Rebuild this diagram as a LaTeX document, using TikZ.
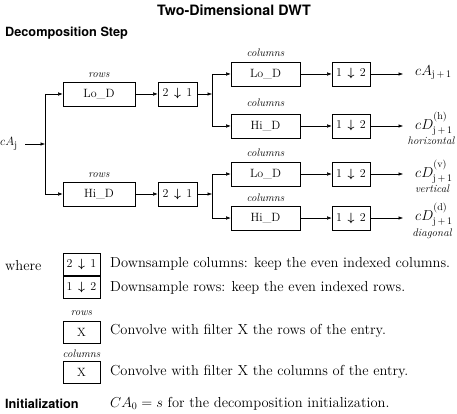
\documentclass[tikz,border=0pt]{standalone}
\usepackage{amsmath}
\usepackage{fontspec}
\newfontfamily\hv{TeX Gyre Heros}
\usetikzlibrary{arrows.meta}
\newcommand{\dsa}[2]{#1\hspace{5.5pt}$\boldsymbol{\downarrow}$\hspace{5.5pt}#2}
\newcommand{\subtx}[1]{\mbox{\fontsize{10}{12}\selectfont #1}}
\newcommand{\suptx}[1]{\raisebox{5pt}{\fontsize{10}{12}\selectfont #1}}
\begin{document}
\begin{tikzpicture}[x=1pt,y=-1pt,
  box/.style={draw, line width=0.6pt, minimum width=72pt, minimum height=24pt, inner sep=0pt, font=\fontsize{12}{14}\selectfont},
  dbox/.style={box, minimum width=39pt},
  cbox/.style={box, minimum width=69pt},
  wbox/.style={box, minimum width=37pt, minimum height=22pt},
  lab/.style={font=\itshape\fontsize{11}{13}\selectfont, inner sep=0pt},
  arr/.style={-{Latex[length=4.5pt,width=3.5pt]}, line width=0.5pt},
  ln/.style={line width=0.5pt},
  outl/.style={anchor=west, inner sep=0pt, font=\fontsize{13.5}{15}\selectfont},
  sub/.style={font=\itshape\fontsize{11}{13}\selectfont, inner sep=0pt},
  txt/.style={anchor=west, inner sep=0pt, font=\fontsize{14.5}{16}\selectfont},
  head/.style={anchor=west, inner sep=0pt, font=\hv\bfseries\fontsize{12.7}{15}\selectfont}
]
\useasboundingbox (0,0) rectangle (457,414);
\node[inner sep=0pt, font=\hv\bfseries\fontsize{14.3}{16}\selectfont] (title) at (234,10) {Two-Dimensional DWT};
\node[head] (dec) at (5,33) {Decomposition Step};

% input
\node[anchor=west, inner sep=0pt, font=\fontsize{13}{15}\selectfont] (cAj) at (0,144) {$cA_{\subtx{j}}$};
\coordinate (v0) at (45,144);
\coordinate (vt) at (45,94);
\coordinate (vb) at (45,194);
\coordinate (cAs) at (25,144);
\draw[arr] (cAs) -- (v0);
\draw[ln] (vt) -- (vb);

% rows stage
\node[box] (lr) at (99,94) {Lo\_D};
\node[lab] (lrl) at (99,75) {rows};
\node[box] (hr) at (99,194) {Hi\_D};
\node[lab] (hrl) at (99,175) {rows};
\draw[arr] (vt) -- (lr);
\draw[arr] (vb) -- (hr);
\node[dbox] (d1) at (177.5,94) {\dsa{2}{1}};
\node[dbox] (d2) at (177.5,194) {\dsa{2}{1}};
\draw[arr] (lr) -- (d1);
\draw[arr] (hr) -- (d2);

% splits
\coordinate (s1) at (212,94);
\coordinate (s1t) at (212,74);
\coordinate (s1b) at (212,126);
\draw[arr] (d1) -- (s1);
\draw[ln] (s1t) -- (s1b);
\coordinate (s2) at (212,194);
\coordinate (s2t) at (212,174);
\coordinate (s2b) at (212,218);
\draw[arr] (d2) -- (s2);
\draw[ln] (s2t) -- (s2b);

% columns stage
\node[cbox] (c1) at (265.5,74) {Lo\_D};
\node[lab] (c1l) at (265.5,53) {columns};
\node[cbox] (c2) at (265.5,126) {Hi\_D};
\node[lab] (c2l) at (265.5,103) {columns};
\node[cbox] (c3) at (265.5,174) {Lo\_D};
\node[lab] (c3l) at (265.5,153) {columns};
\node[cbox] (c4) at (265.5,218) {Hi\_D};
\node[lab] (c4l) at (265.5,198) {columns};
\draw[arr] (s1t) -- (c1);
\draw[arr] (s1b) -- (c2);
\draw[arr] (s2t) -- (c3);
\draw[arr] (s2b) -- (c4);

\node[dbox, minimum width=38pt] (u1) at (351,74) {\dsa{1}{2}};
\node[dbox, minimum width=38pt] (u2) at (351,126) {\dsa{1}{2}};
\node[dbox, minimum width=38pt] (u3) at (351,174) {\dsa{1}{2}};
\node[dbox, minimum width=38pt] (u4) at (351,218) {\dsa{1}{2}};
\draw[arr] (c1) -- (u1);
\draw[arr] (c2) -- (u2);
\draw[arr] (c3) -- (u3);
\draw[arr] (c4) -- (u4);

% outputs
\coordinate (o1) at (403,74);
\coordinate (o2) at (403,126);
\coordinate (o3) at (403,174);
\coordinate (o4) at (403,218);
\draw[arr] (u1) -- (o1);
\draw[arr] (u2) -- (o2);
\draw[arr] (u3) -- (o3);
\draw[arr] (u4) -- (o4);
\node[outl] (t1) at (415,73) {$cA_{\subtx{j\,+\,1}}$};
\node[outl] (t2) at (415,124) {$cD_{\subtx{j\,+\,1}}^{\suptx{(h)}}$};
\node[sub] (t2s) at (431,141) {horizontal};
\node[outl] (t3) at (415,172) {$cD_{\subtx{j\,+\,1}}^{\suptx{(v)}}$};
\node[sub] (t3s) at (432,189) {vertical};
\node[outl] (t4) at (415,215) {$cD_{\subtx{j\,+\,1}}^{\suptx{(d)}}$};
\node[sub] (t4s) at (432,234) {diagonal};

% legend
\node[txt] (where) at (5,266) {where};
\node[wbox] (w1) at (81.5,264) {\dsa{2}{1}};
\node[txt] (w1t) at (110,264) {Downsample columns: keep the even indexed columns.};
\node[wbox] (w2) at (81.5,287) {\dsa{1}{2}};
\node[txt] (w2t) at (110,288) {Downsample rows: keep the even indexed rows.};
\node[lab] (w3l) at (81.5,313) {rows};
\node[wbox] (w3) at (81.5,332) {X};
\node[txt] (w3t) at (110,331) {Convolve with filter X the rows of the entry.};
\node[lab] (w4l) at (81.5,354) {columns};
\node[wbox] (w4) at (81.5,372) {X};
\node[txt] (w4t) at (110,372) {Convolve with filter X the columns of the entry.};
\node[head] (init) at (5,404) {Initialization};
\node[txt] (initt) at (110,404) {$CA_0 = s$ for the decomposition initialization.};
\end{tikzpicture}
\end{document}
